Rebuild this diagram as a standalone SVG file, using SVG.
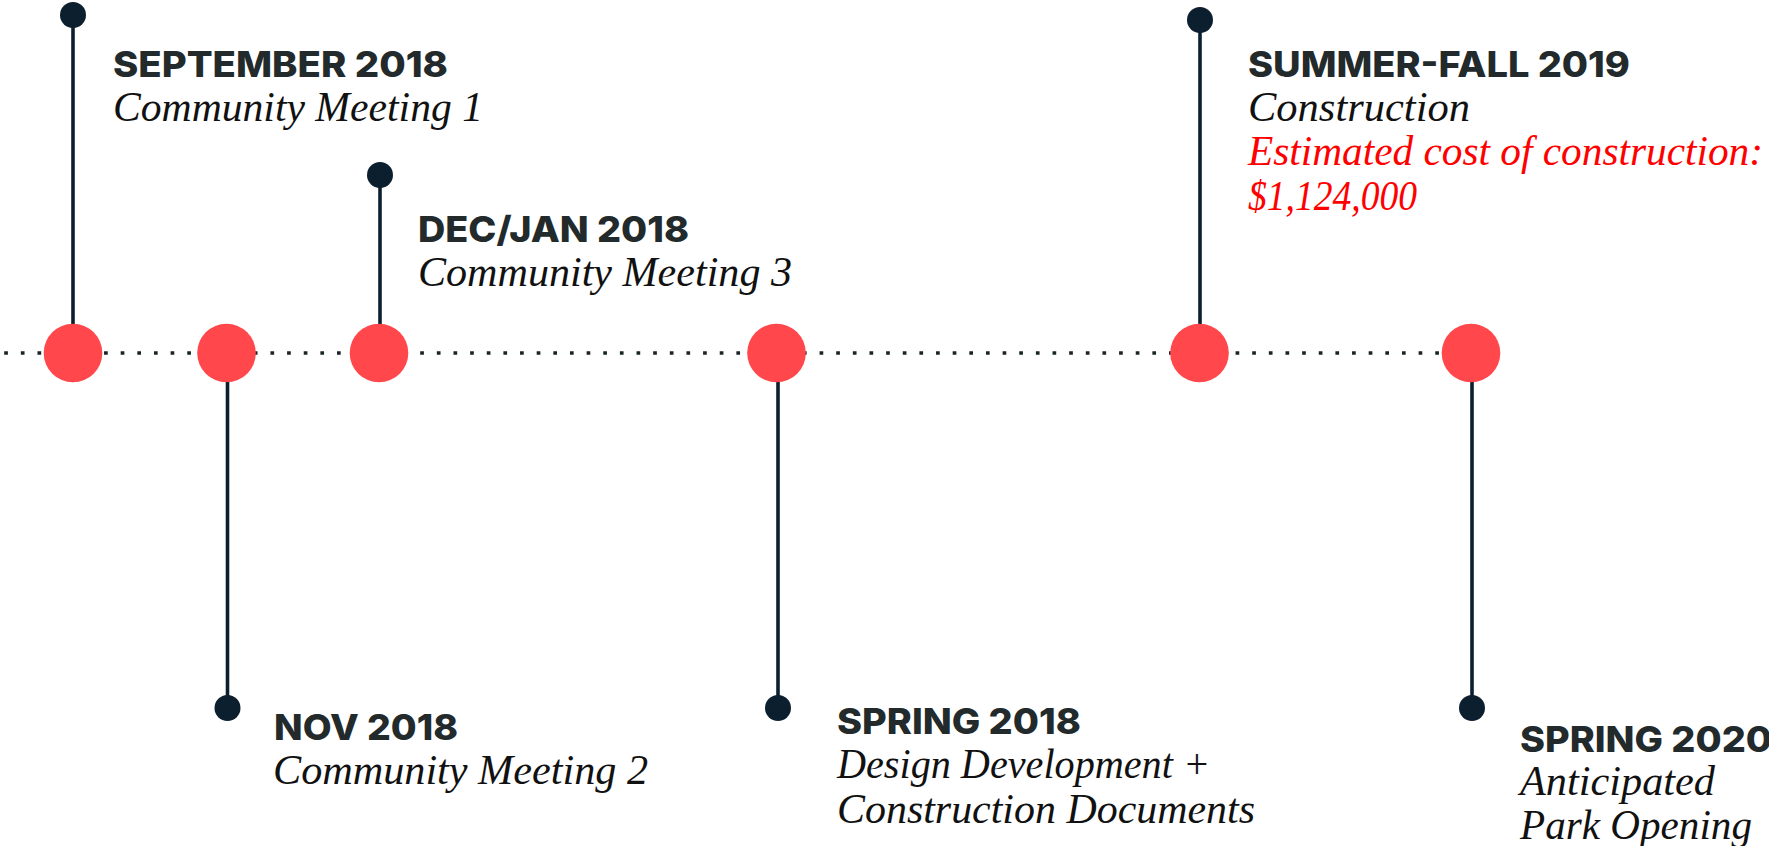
<svg xmlns="http://www.w3.org/2000/svg" width="1769" height="846" viewBox="0 0 1769 846">
<style>
.bg{fill:#ffffff}
.stem{stroke:#0c1f2f;stroke-width:3.6;fill:none}
.dotline{stroke:#1b2428;stroke-width:3.7;stroke-dasharray:3.7 12.94;fill:none}
.pin{fill:#0c1f2f}
.mark{fill:#ff474c}
.head{font-family:Inter,"Liberation Sans",sans-serif;font-weight:800;font-size:36px;fill:#232a2c}
.desc{font-family:"Liberation Serif","DejaVu Serif",serif;font-style:italic;font-size:42px;fill:#111111}
.cost{fill:#ff0000}
</style>
<rect class="bg" x="0" y="0" width="1769" height="846"/>
<g id="connectors">
  <line class="dotline" x1="4.2" y1="353" x2="1442" y2="353"/>
  <line class="stem" x1="73" y1="15" x2="73" y2="353"/>
  <line class="stem" x1="227.5" y1="353" x2="227.5" y2="708"/>
  <line class="stem" x1="380" y1="175" x2="380" y2="353"/>
  <line class="stem" x1="778" y1="353" x2="778" y2="708"/>
  <line class="stem" x1="1200" y1="20" x2="1200" y2="353"/>
  <line class="stem" x1="1472" y1="353" x2="1472" y2="708"/>
</g>
<g id="node-sep-2018">
  <circle class="mark" cx="73" cy="353" r="29.3"/>
  <circle class="pin" cx="73" cy="15" r="13"/>
  <text class="head" x="113" y="77" textLength="335" lengthAdjust="spacingAndGlyphs">SEPTEMBER 2018</text>
  <text class="desc" x="113" y="121" textLength="370" lengthAdjust="spacingAndGlyphs">Community Meeting 1</text>
</g>
<g id="node-nov-2018">
  <circle class="mark" cx="226.5" cy="353" r="29.3"/>
  <circle class="pin" cx="227.5" cy="708" r="13"/>
  <text class="head" x="274" y="740" textLength="184" lengthAdjust="spacingAndGlyphs">NOV 2018</text>
  <text class="desc" x="273" y="784" textLength="375" lengthAdjust="spacingAndGlyphs">Community Meeting 2</text>
</g>
<g id="node-decjan-2018">
  <circle class="mark" cx="379" cy="353" r="29.3"/>
  <circle class="pin" cx="380" cy="175" r="13"/>
  <text class="head" x="418" y="242" textLength="271" lengthAdjust="spacingAndGlyphs">DEC/JAN 2018</text>
  <text class="desc" x="418" y="285.5" textLength="374" lengthAdjust="spacingAndGlyphs">Community Meeting 3</text>
</g>
<g id="node-spring-2018">
  <circle class="mark" cx="776.5" cy="353" r="29.3"/>
  <circle class="pin" cx="778" cy="708" r="13"/>
  <text class="head" x="837" y="734" textLength="244" lengthAdjust="spacingAndGlyphs">SPRING 2018</text>
  <text class="desc" x="837" y="778" textLength="373" lengthAdjust="spacingAndGlyphs">Design Development +</text>
  <text class="desc" x="837" y="823" textLength="418" lengthAdjust="spacingAndGlyphs">Construction Documents</text>
</g>
<g id="node-summerfall-2019">
  <circle class="mark" cx="1199.5" cy="353" r="29.3"/>
  <circle class="pin" cx="1200" cy="20" r="13"/>
  <text class="head" x="1248" y="77" textLength="382" lengthAdjust="spacingAndGlyphs">SUMMER-FALL 2019</text>
  <text class="desc" x="1248" y="121" textLength="222" lengthAdjust="spacingAndGlyphs">Construction</text>
  <text class="desc cost" x="1248" y="165" textLength="515" lengthAdjust="spacingAndGlyphs">Estimated cost of construction:</text>
  <text class="desc cost" x="1248" y="210" textLength="169" lengthAdjust="spacingAndGlyphs">$1,124,000</text>
</g>
<g id="node-spring-2020">
  <circle class="mark" cx="1471" cy="353" r="29.3"/>
  <circle class="pin" cx="1472" cy="708" r="13"/>
  <text class="head" x="1520" y="752" textLength="252" lengthAdjust="spacingAndGlyphs">SPRING 2020</text>
  <text class="desc" x="1520" y="795" textLength="195" lengthAdjust="spacingAndGlyphs">Anticipated</text>
  <text class="desc" x="1520" y="839" textLength="232" lengthAdjust="spacingAndGlyphs">Park Opening</text>
</g>
</svg>
